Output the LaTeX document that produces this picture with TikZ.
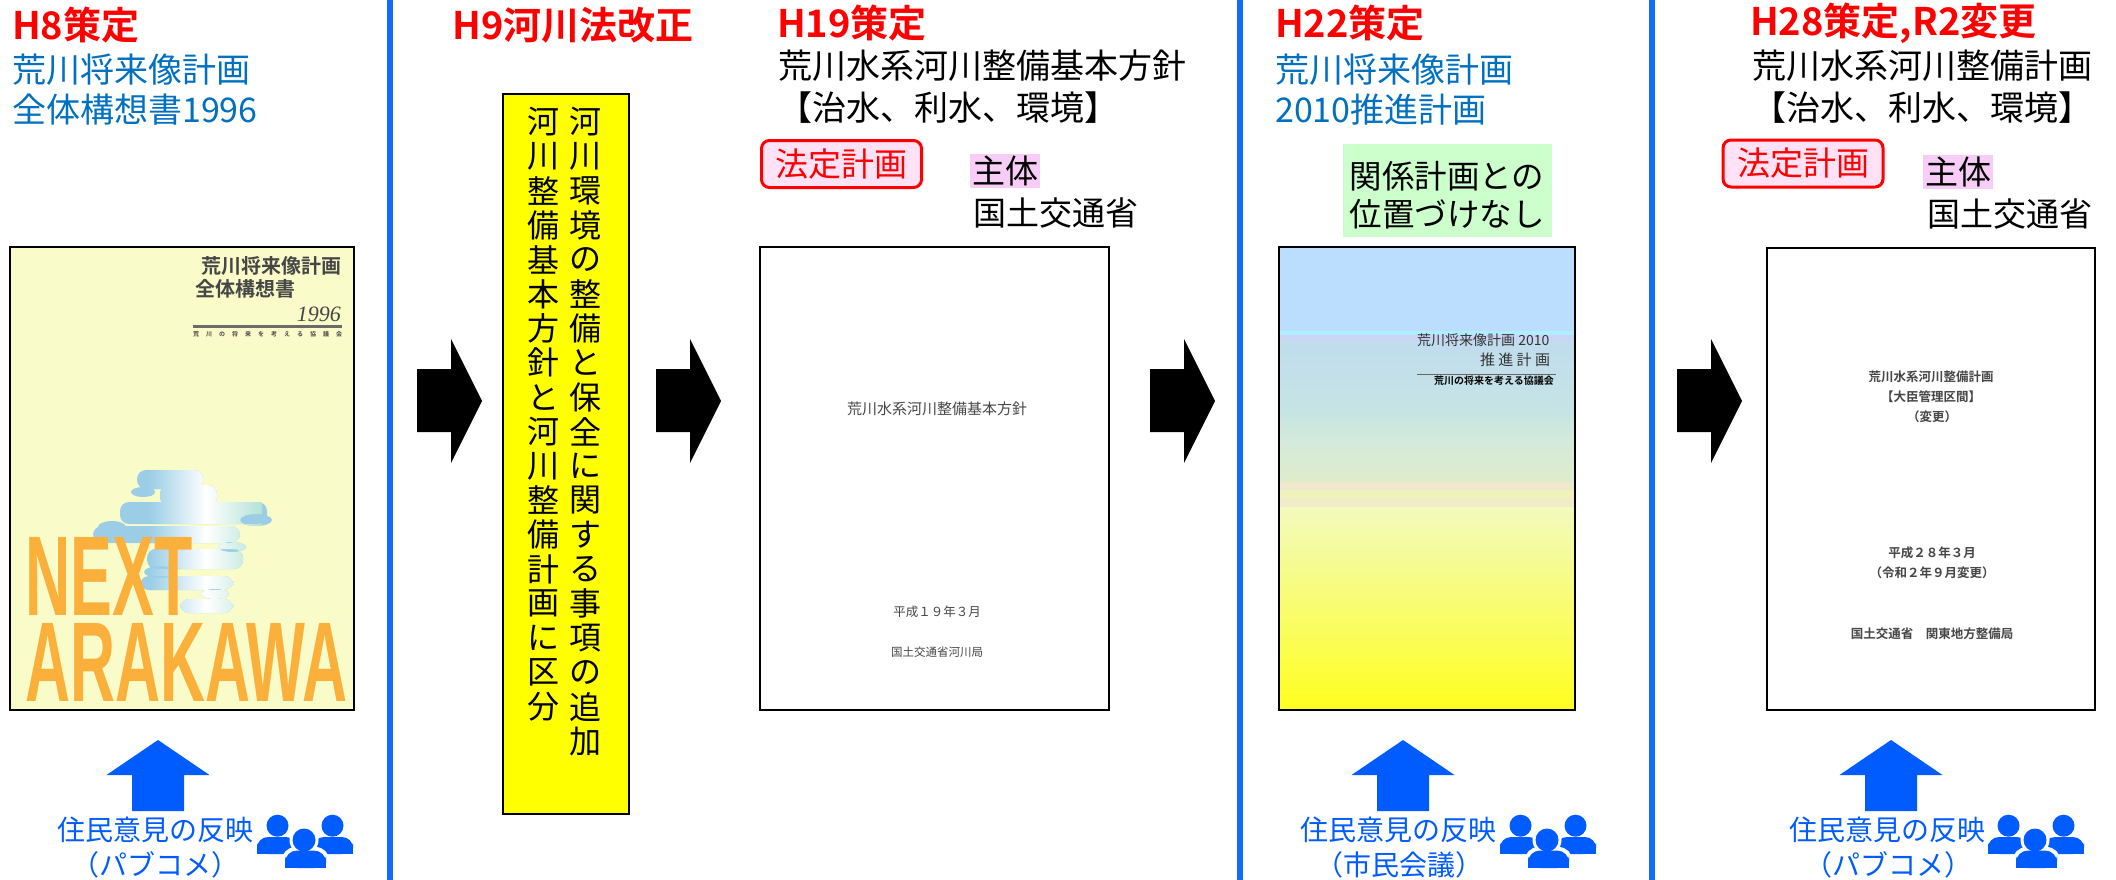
\documentclass[tikz,border=0pt]{standalone}
\usepackage{fontspec}
\setmainfont{Noto Sans CJK JP}[BoldFont={Noto Sans CJK JP Bold}]
\newfontfamily\latinbold{Liberation Sans}
\newfontfamily\latinserif{Liberation Serif}
\newcommand\fsz[1]{\fontsize{#1}{#1}\selectfont}

\definecolor{sepblue}{RGB}{20,105,255}
\definecolor{planblue}{RGB}{0,112,192}
\definecolor{voiceblue}{RGB}{0,92,255}
\definecolor{legalpink}{RGB}{255,226,246}
\definecolor{actorpink}{RGB}{247,205,247}
\definecolor{notegreen}{RGB}{204,255,204}
\definecolor{lawyellow}{RGB}{255,255,0}
\definecolor{paleyellow}{RGB}{249,252,200}
\definecolor{waterblue}{RGB}{155,206,230}
\definecolor{watergreen}{RGB}{178,226,214}
\definecolor{nextorange}{RGB}{251,176,59}
\definecolor{printgrey}{RGB}{70,70,70}
% sky-to-yellow cover colours
\definecolor{skyA}{RGB}{187,222,255}
\definecolor{skyB}{RGB}{175,238,255}
\definecolor{skyC}{RGB}{202,212,245}
\definecolor{skyD}{RGB}{192,220,238}
\definecolor{skyE}{RGB}{198,228,228}
\definecolor{skyF}{RGB}{212,234,218}
\definecolor{skyG}{RGB}{222,236,202}
\definecolor{skyH}{RGB}{240,232,205}
\definecolor{skyI}{RGB}{240,242,190}
\definecolor{skyJ}{RGB}{242,250,190}
\definecolor{skyK}{RGB}{238,245,140}
\definecolor{skyL}{RGB}{255,255,30}

% rippling reflection of the river on the 1996 cover
\newcommand\waterpath{%
  (137,470) rectangle (203,489)
  (160,485) rectangle (217,506)
  (120,502) rectangle (267,524)
  (93,526) rectangle (240,543)
  (147,549) rectangle (243,569)
  (140,576) rectangle (233,590)
  (180,599) rectangle (233,613)}
\newcommand\ripplepath{%
  (143,492) ellipse (12 and 5)
  (112,527) ellipse (14 and 6)
  (256,520) ellipse (16 and 6)
  (232,547) ellipse (14 and 5)
  (160,572) ellipse (16 and 6)
  (215,594) ellipse (14 and 5)}

\begin{document}
\begin{tikzpicture}[x=1pt,y=-1pt,
  sep/.style={draw=sepblue,line width=6pt},
  ttl/.style={anchor=west,inner sep=0pt,text=red,font=\fsz{38}\bfseries},
  plan/.style={anchor=west,inner sep=0pt,text=planblue,font=\fsz{34}},
  body/.style={anchor=west,inner sep=0pt,font=\fsz{34}},
  legal/.style={draw=red,line width=3pt,fill=legalpink,rounded corners=8pt,text=red,
    font=\fsz{33},minimum width=160pt,minimum height=47pt,inner sep=0pt},
  actor/.style={anchor=west,fill=actorpink,font=\fsz{33},inner xsep=2pt,inner ysep=0pt,minimum height=34pt},
  voice/.style={inner sep=0pt,text=voiceblue,font=\fsz{28}},
  cover/.style={draw=black,line width=2.5pt},
  print/.style={inner sep=0pt,text=printgrey},
  tate/.style={inner sep=0pt,font=\fsz{32}},
  people/.pic={
    \fill[voiceblue] (20.5,12.7) circle (11) (75.5,12.7) circle (11);
    \fill[voiceblue,rounded corners=11pt] (0,24) rectangle (40,41);
    \fill[voiceblue] (0,32) rectangle (40,41);
    \fill[voiceblue,rounded corners=11pt] (56,24) rectangle (96,41);
    \fill[voiceblue] (56,32) rectangle (96,41);
    \fill[white] (47,27) circle (14.5);
    \fill[white,rounded corners=14pt] (24.5,34) rectangle (72.5,57);
    \fill[voiceblue] (47,27) circle (11.5);
    \fill[voiceblue,rounded corners=12pt] (28,37.5) rectangle (69,55);
    \fill[voiceblue] (28,46) rectangle (69,55);
  },
  flowarrow/.pic={
    \fill[black] (0,-32) -- (34,-32) -- (34,-62) -- (65,0) -- (34,62) -- (34,31) -- (0,31) -- cycle;
  },
  voicearrow/.pic={
    \fill[voiceblue] (0,0) -- (51.5,35) -- (26,35) -- (26,71) -- (-26,71) -- (-26,35) -- (-51.5,35) -- cycle;
  }
]
\useasboundingbox (0,0) rectangle (2116,880);
\fill[white] (0,0) rectangle (2116,880);

% period separators
\draw[sep] (390,0) -- (390,880);
\draw[sep] (1240,0) -- (1240,880);
\draw[sep] (1652,0) -- (1652,880);

% ---------- H8 : overall concept 1996 ----------
\node[ttl] (t1) at (12,25) {H8策定};
\node[plan] (p1a) at (12,70) {荒川将来像計画};
\node[plan] (p1b) at (12,110) {全体構想書1996};

\fill[paleyellow] (10,247) rectangle (354,710);
\fill[waterblue,rounded corners=9pt] \waterpath;
\fill[waterblue] \ripplepath;
\begin{scope}
  \clip[rounded corners=9pt] \waterpath \ripplepath;
  \shade[left color=waterblue,right color=watergreen,middle color=white] (150,460) rectangle (262,620);
\end{scope}
\node[print,anchor=east,font=\fsz{20}\bfseries] (c1a) at (342,266) {荒川将来像計画};
\node[print,anchor=west,font=\fsz{20}\bfseries] (c1b) at (195,289) {全体構想書};
\node[print,anchor=east,font=\latinserif\itshape\fsz{22}] (c1c) at (341,314) {1996};
\draw[printgrey!80,line width=3pt] (193,326) -- (342,326);
\node[print,anchor=west,font=\fsz{6}\bfseries] (c1d) at (193,334)
  {\makebox[149pt][s]{荒\hfill 川\hfill の\hfill 将\hfill 来\hfill を\hfill 考\hfill え\hfill る\hfill 協\hfill 議\hfill 会}};
\node[anchor=south west,inner sep=0pt,text=nextorange] (nx) at (25,616)
  {\resizebox{167pt}{78pt}{\latinbold\bfseries NEXT}};
\node[anchor=south west,inner sep=0pt,text=nextorange] (ak) at (25,702)
  {\resizebox{322pt}{78pt}{\latinbold\bfseries ARAKAWA}};
\draw[cover] (10,247) rectangle (354,710);

\pic at (158,740) {voicearrow};
\node[voice] (v1a) at (155,829.5) {住民意見の反映};
\node[voice] (v1b) at (155,865) {（パブコメ）};
\pic at (257,813) {people};

% ---------- H9 : River Law amendment ----------
\node[ttl,anchor=center] (t2) at (573,25) {H9河川法改正};
\pic at (417,401) {flowarrow};
\draw[black,line width=2pt,fill=lawyellow] (503,94) rectangle (629,814);
\foreach \c [count=\i] in {河,川,環,境,の,整,備,と,保,全,に,関,す,る,事,項,の,追,加}
  \node[tate] (ra\i) at (585,{122+34.4*(\i-1)}) {\c};
\foreach \c [count=\i] in {河,川,整,備,基,本,方,針,と,河,川,整,備,計,画,に,区,分}
  \node[tate] (rb\i) at (543,{122+34.4*(\i-1)}) {\c};
\pic at (656,401) {flowarrow};

% ---------- H19 : basic policy ----------
\node[ttl] (t3) at (777,23) {H19策定};
\node[body] (p3a) at (778,66) {荒川水系河川整備基本方針};
\node[body] (p3b) at (778,108) {【治水、利水、環境】};
\node[legal] (l3) at (841.5,164) {法定計画};
\node[actor] (a3) at (970,171) {主体};
\node[body,font=\fsz{33}] (m3) at (973,213) {国土交通省};
\draw[cover,fill=white] (760,247) rectangle (1109,710);
\node[print,font=\fsz{15}] (c3a) at (937,409) {荒川水系河川整備基本方針};
\node[print,font=\fsz{12.5}] (c3b) at (937,612) {平成１９年３月};
\node[print,font=\fsz{11.5}] (c3c) at (937,652) {国土交通省河川局};
\pic at (1150,401) {flowarrow};

% ---------- H22 : promotion plan 2010 ----------
\node[ttl] (t4) at (1275,23) {H22策定};
\node[plan] (p4a) at (1275,70) {荒川将来像計画};
\node[plan] (p4b) at (1275,110) {2010推進計画};
\fill[notegreen] (1343,144) rectangle (1552,237);
\node[inner sep=0pt,font=\fsz{32.5}] (g4a) at (1447,176) {関係計画との};
\node[inner sep=0pt,font=\fsz{32.5}] (g4b) at (1447,214) {位置づけなし};

\fill[skyA] (1279,247) rectangle (1575,331);
\fill[skyB] (1279,331) rectangle (1575,335);
\fill[skyC] (1279,335) rectangle (1575,340);
\shade[top color=skyD,bottom color=skyE] (1279,340) rectangle (1575,412);
\shade[top color=skyE,bottom color=skyF] (1279,412) rectangle (1575,442);
\shade[top color=skyF,bottom color=skyG] (1279,442) rectangle (1575,482);
\fill[skyH] (1279,482) rectangle (1575,490);
\fill[skyI] (1279,490) rectangle (1575,498);
\fill[skyH!60!skyI] (1279,498) rectangle (1575,507);
\shade[top color=skyJ,middle color=skyK,bottom color=skyL] (1279,507) rectangle (1575,710);
\draw[cover] (1279,247) rectangle (1575,710);
\node[anchor=west,inner sep=0pt,font=\fsz{14},text=black!80] (c4a) at (1417,340) {荒川将来像計画 2010};
\node[inner sep=0pt,font=\fsz{15},text=black!80] (c4b) at (1515,360)
  {\makebox[70pt][s]{推\hfill 進\hfill 計\hfill 画}};
\draw[black!60,line width=0.8pt] (1417,374) -- (1556,374);
\node[inner sep=0pt,font=\fsz{10}\bfseries] (c4c) at (1494,381) {荒川の将来を考える協議会};

\pic at (1403,740) {voicearrow};
\node[voice] (v4a) at (1398,829.5) {住民意見の反映};
\node[voice] (v4b) at (1399,865) {（市民会議）};
\pic at (1500,813) {people};
\pic at (1677,401) {flowarrow};

% ---------- H28 / R2 : river improvement plan ----------
\node[ttl] (t5) at (1750,23) {H28策定,R2変更};
\node[body] (p5a) at (1752,66) {荒川水系河川整備計画};
\node[body] (p5b) at (1752,108) {【治水、利水、環境】};
\node[legal] (l5) at (1803,163.5) {法定計画};
\node[actor] (a5) at (1923,172) {主体};
\node[body,font=\fsz{33}] (m5) at (1927,214) {国土交通省};
\draw[cover,fill=white] (1767,248) rectangle (2095,710);
\node[print,font=\fsz{12.5}\bfseries] (c5a) at (1931,377) {荒川水系河川整備計画};
\node[print,font=\fsz{12.5}\bfseries] (c5b) at (1931,397) {【大臣管理区間】};
\node[print,font=\fsz{12.5}\bfseries] (c5c) at (1932,417) {（変更）};
\node[print,font=\fsz{12.5}\bfseries] (c5d) at (1932,553) {平成２８年３月};
\node[print,font=\fsz{12.5}\bfseries] (c5e) at (1932,573) {（令和２年９月変更）};
\node[print,font=\fsz{12.5}\bfseries] (c5f) at (1932,634) {国土交通省　関東地方整備局};

\pic at (1891,740) {voicearrow};
\node[voice] (v5a) at (1887,829.5) {住民意見の反映};
\node[voice] (v5b) at (1888,865) {（パブコメ）};
\pic at (1988,813) {people};
\end{tikzpicture}
\end{document}
